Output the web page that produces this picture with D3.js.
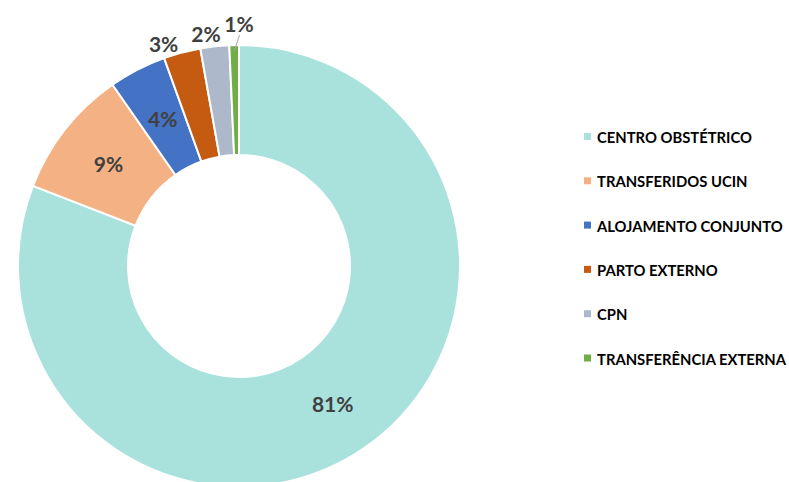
<!DOCTYPE html>
<html lang="pt">
<head>
<meta charset="UTF-8">
<title>Donut</title>
<script src="https://d3js.org/d3.v7.min.js"></script>
<style>
  body { margin: 0; background: #fff; font-family: Lato, "Open Sans", sans-serif; }
  svg { display: block; }
  .lbl { font-weight: bold; fill: #404040; font-size: 21px; }
  .leg { font-weight: bold; fill: #000; font-size: 14.8px; }
</style>
</head>
<body>
<svg width="789" height="482"></svg>
<script>
const categories = ["CENTRO OBSTÉTRICO", "TRANSFERIDOS UCIN", "ALOJAMENTO CONJUNTO", "PARTO EXTERNO", "CPN", "TRANSFERÊNCIA EXTERNA"];
const values = [80.9, 9.4, 4.2, 2.7, 2.1, 0.7];
const labels = ["81%", "9%", "4%", "3%", "2%", "1%"];
const colors = ["#A9E2DC", "#F4B183", "#4472C4", "#C55A11", "#ADB9CA", "#70AD47"];

const svg = d3.select("svg");
const cx = 239, cy = 266, outerR = 221, innerR = 111;

const data = categories.map((c, i) => ({ name: c, value: values[i], label: labels[i], color: colors[i] }));

// pie in data order, clockwise from 12 o'clock
const pie = d3.pie().value(d => d.value).sort(null);
const arcs = pie(data);
const arc = d3.arc().innerRadius(innerR).outerRadius(outerR);

const g = svg.append("g").attr("transform", `translate(${cx},${cy})`);

g.selectAll("path")
  .data(arcs)
  .enter().append("path")
  .attr("d", arc)
  .attr("fill", d => d.data.color)
  .attr("stroke", "#fff")
  .attr("stroke-width", 2);

// labels: big slices inside, small ones pushed outside (nudged apart so they don't collide)
const outside = d => (d.endAngle - d.startAngle) < 0.2;
const mid = d => (d.startAngle + d.endAngle) / 2;
function outPos(d) {
  const isLast = d.index === arcs.length - 1;
  const r = isLast ? 243 : 235;
  const a = isLast ? 0 : mid(d) - (d.index === 3 ? 0.066 : 0.031);
  return [Math.sin(a) * r, -Math.cos(a) * r];
}
const pos = d => outside(d) ? outPos(d) : arc.centroid(d);

g.selectAll("text.lbl")
  .data(arcs)
  .enter().append("text")
  .attr("class", "lbl")
  .attr("text-anchor", "middle")
  .attr("dominant-baseline", "central")
  .attr("x", d => pos(d)[0])
  .attr("y", d => pos(d)[1])
  .text(d => d.data.label);

// leader line for the thinnest slice
const last = arcs[arcs.length - 1];
const ma = mid(last);
g.append("line")
  .attr("x1", Math.sin(ma) * (outerR - 6)).attr("y1", -Math.cos(ma) * (outerR - 6))
  .attr("x2", 0.5).attr("y2", -(outerR + 10))
  .attr("stroke", "#A6A6A6").attr("stroke-width", 1);

// legend
const leg = svg.append("g").attr("transform", "translate(584,137)");
const item = leg.selectAll("g")
  .data(data)
  .enter().append("g")
  .attr("transform", (d, i) => `translate(0,${i * 44.3})`);
item.append("rect")
  .attr("x", 0).attr("y", -4).attr("width", 7).attr("height", 7)
  .attr("fill", d => d.color);
item.append("text")
  .attr("class", "leg")
  .attr("x", 13).attr("y", 0)
  .attr("dominant-baseline", "central")
  .text(d => d.name);
</script>
</body>
</html>
